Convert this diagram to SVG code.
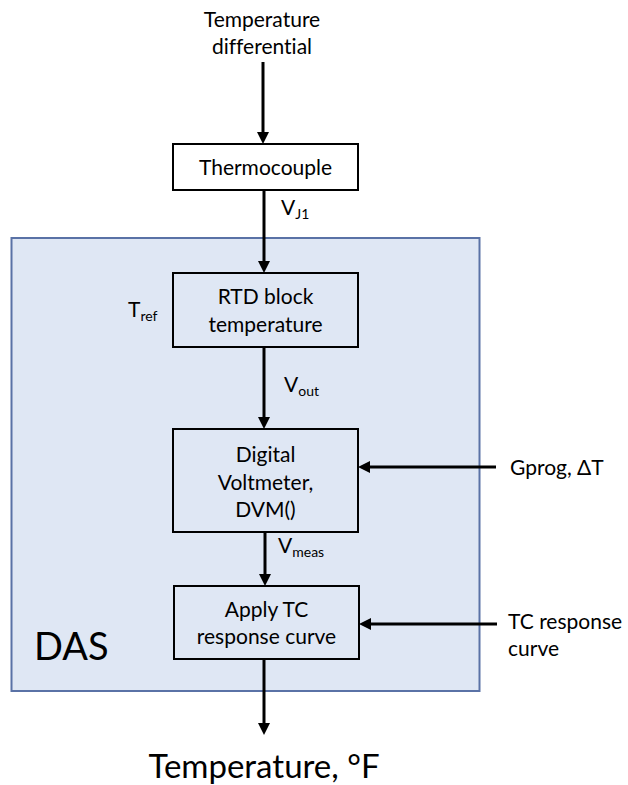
<svg xmlns="http://www.w3.org/2000/svg" width="628" height="785" viewBox="0 0 628 785">
  <defs>
    <marker id="head" markerUnits="userSpaceOnUse" markerWidth="12" markerHeight="12" refX="0" refY="6" orient="auto">
      <path d="M0,0 L12,6 L0,12 Z" fill="#000"/>
    </marker>
    <style>
      text { font-family: Lato, "Open Sans", sans-serif; fill: #000; font-variant-ligatures: none; }
      .lbl { font-size: 21px; }
      .mid { text-anchor: middle; }
      .sub { font-size: 14px; }
      .box { fill: none; stroke: #000; stroke-width: 2; }
      .wire { fill: none; stroke: #000; stroke-width: 3; marker-end: url(#head); }
    </style>
  </defs>

  <rect width="628" height="785" fill="#fff"/>

  <!-- data acquisition system boundary -->
  <g id="das">
    <rect x="11.5" y="238" width="468" height="453" fill="#dfe7f4" stroke="#5a72a6" stroke-width="2"/>
    <text x="34" y="660" font-size="38">DAS</text>
  </g>

  <!-- input label -->
  <g id="input">
    <text class="lbl mid" x="262" y="27">Temperature</text>
    <text class="lbl mid" x="262" y="54">differential</text>
  </g>

  <g id="thermocouple">
    <rect class="box" x="173" y="144" width="185" height="46" style="fill:#fff"/>
    <text class="lbl mid" x="265.5" y="175">Thermocouple</text>
  </g>

  <g id="rtd">
    <rect class="box" x="173" y="273" width="185" height="74"/>
    <text class="lbl mid" x="265.5" y="304">RTD block</text>
    <text class="lbl mid" x="265.5" y="332">temperature</text>
  </g>

  <g id="dvm">
    <rect class="box" x="173" y="429" width="185" height="103"/>
    <text class="lbl mid" x="265.5" y="462">Digital</text>
    <text class="lbl mid" x="265.5" y="490">Voltmeter,</text>
    <text class="lbl mid" x="265.5" y="517">DVM()</text>
  </g>

  <g id="apply-tc">
    <rect class="box" x="174" y="586" width="185" height="73"/>
    <text class="lbl mid" x="266.5" y="617">Apply TC</text>
    <text class="lbl mid" x="266.5" y="644">response curve</text>
  </g>

  <g id="gprog">
    <text class="lbl" x="510" y="475">Gprog, ΔT</text>
  </g>

  <g id="tc-curve">
    <text class="lbl" x="508" y="629">TC response</text>
    <text class="lbl" x="508" y="656">curve</text>
  </g>

  <g id="output">
    <text class="mid" x="264" y="778" font-size="33">Temperature, °F</text>
  </g>

  <!-- signal labels -->
  <g id="signals">
    <text class="lbl" x="281" y="215">V<tspan class="sub" dy="4">J1</tspan></text>
    <text class="lbl" x="128" y="317">T<tspan class="sub" dy="4">ref</tspan></text>
    <text class="lbl" x="284" y="392">V<tspan class="sub" dy="4">out</tspan></text>
    <text class="lbl" x="278" y="553">V<tspan class="sub" dy="4">meas</tspan></text>
  </g>

  <!-- connectors -->
  <g id="connectors">
    <path class="wire" d="M263,62 V132"/>
    <path class="wire" d="M264,190 V261"/>
    <path class="wire" d="M264,347 V417"/>
    <path class="wire" d="M265,532 V574"/>
    <path class="wire" d="M264,659 V723"/>
    <path class="wire" d="M496,467 H370"/>
    <path class="wire" d="M497,624 H371"/>
  </g>
</svg>
